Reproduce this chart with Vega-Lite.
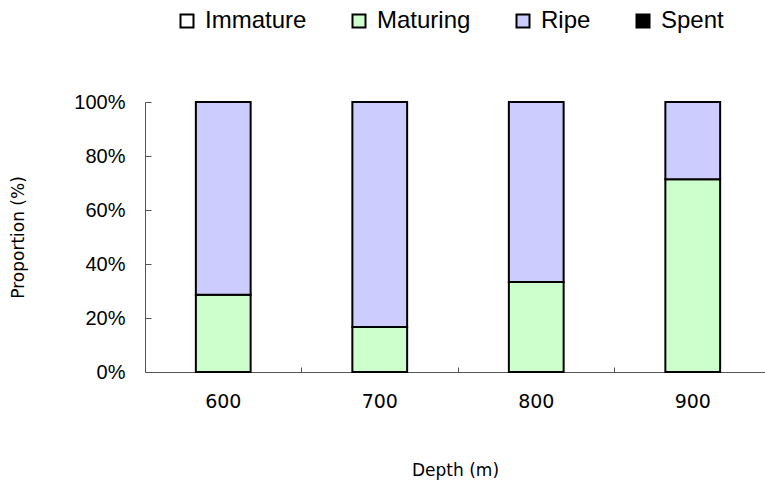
{
  "$schema": "https://vega.github.io/schema/vega-lite/v6.json",
  "autosize": "none",
  "width": 620,
  "height": 270,
  "padding": {"left": 145, "top": 102, "right": 0, "bottom": 113},
  "background": "white",
  "data": {
    "values": [
      {"depth": "600", "stage": "Maturing", "value": 28.6},
      {"depth": "600", "stage": "Ripe", "value": 71.4},
      {"depth": "700", "stage": "Maturing", "value": 16.7},
      {"depth": "700", "stage": "Ripe", "value": 83.3},
      {"depth": "800", "stage": "Maturing", "value": 33.3},
      {"depth": "800", "stage": "Ripe", "value": 66.7},
      {"depth": "900", "stage": "Maturing", "value": 71.4},
      {"depth": "900", "stage": "Ripe", "value": 28.6}
    ]
  },
  "mark": {"type": "bar", "stroke": "black", "strokeWidth": 2, "width": {"band": 0.35}},
  "encoding": {
    "x": {
      "field": "depth",
      "type": "nominal",
      "scale": {"paddingInner": 0, "paddingOuter": 0, "range": [0, 626]},
      "axis": {
        "title": "Depth (m)",
        "labelAngle": 0,
        "labelFont": "DejaVu Sans",
        "labelFontSize": 19,
        "labelColor": "black",
        "labelPadding": 25,
        "labelBound": false,
        "bandPosition": 0,
        "tickSize": -5,
        "tickColor": "#555",
        "domainColor": "#555",
        "titleFont": "DejaVu Sans",
        "titleFontSize": 17,
        "titleFontWeight": "normal",
        "titleColor": "black",
        "titleX": 310,
        "titleY": 98,
        "titleBaseline": "middle"
      }
    },
    "y": {
      "field": "value",
      "type": "quantitative",
      "stack": "normalize",
      "scale": {"domain": [0, 1]},
      "axis": {
        "title": "Proportion (%)",
        "format": ".0%",
        "values": [0, 0.2, 0.4, 0.6, 0.8, 1],
        "grid": false,
        "tickSize": -6,
        "tickColor": "#555",
        "domainColor": "#555",
        "labelFont": "Liberation Sans",
        "labelFontSize": 20,
        "labelColor": "black",
        "labelPadding": 26,
        "titleFont": "DejaVu Sans",
        "titleFontSize": 17,
        "titleFontWeight": "normal",
        "titleColor": "black",
        "titleX": -127,
        "titleY": 135,
        "titleBaseline": "middle"
      }
    },
    "color": {
      "field": "stage",
      "type": "nominal",
      "scale": {
        "domain": ["Immature", "Maturing", "Ripe", "Spent"],
        "range": ["#ffffff", "#ccffcc", "#ccccff", "#000000"]
      },
      "legend": {
        "title": null,
        "orient": "none",
        "direction": "horizontal",
        "legendX": 30,
        "legendY": -93,
        "symbolType": "square",
        "symbolSize": 169,
        "symbolStrokeColor": "black",
        "symbolStrokeWidth": 2,
        "symbolOpacity": 1,
        "labelFont": "Liberation Sans",
        "labelFontSize": 24,
        "labelColor": "black",
        "labelOffset": 6,
        "columnPadding": 40,
        "labelLimit": 300
      }
    },
    "order": {"field": "stage", "type": "nominal", "sort": "ascending"}
  },
  "config": {"view": {"stroke": null}}
}
